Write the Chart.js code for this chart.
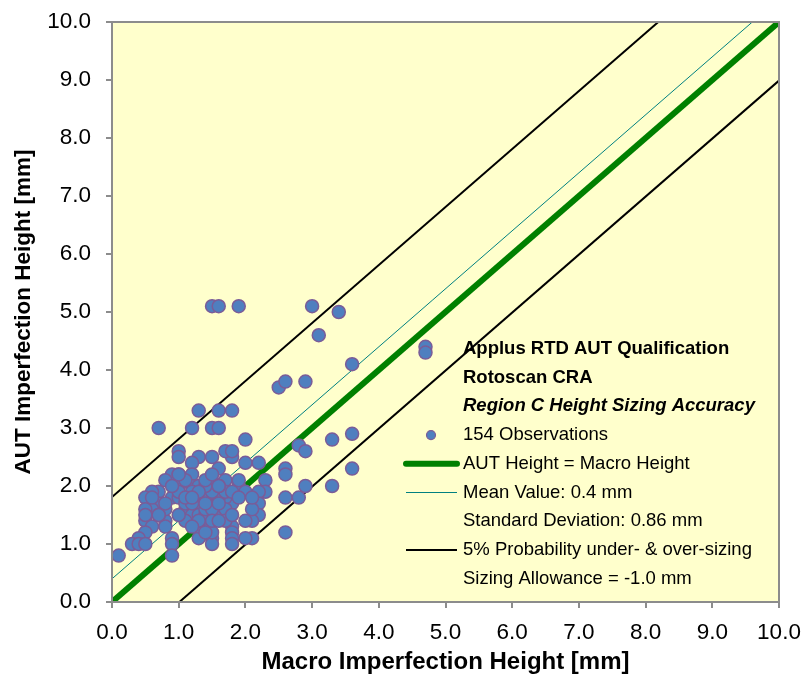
<!DOCTYPE html>
<html><head><meta charset="utf-8">
<script src="https://cdn.jsdelivr.net/npm/chart.js@4/dist/chart.umd.min.js"></script>
<style>html,body{margin:0;padding:0;background:#fff}#wrap{width:804px;height:677px;position:relative}</style>
</head><body><div id="wrap"><canvas id="c" width="804" height="677"></canvas></div>
<script>
// Observations: Macro height (x) vs AUT height (y), mm
const macroHeight = [0.1,1.5,1.6,1.9,3.0,3.4,3.1,3.6,4.7,4.7,2.5,2.6,2.9,1.3,1.6,1.8,0.7,1.2,1.5,1.6,
 2.0,2.8,2.9,3.3,3.6,3.6,3.3,2.9,2.8,2.6,2.6,2.6,2.6,2.2,2.0,2.3,2.3,2.2,2.2,2.2,2.1,2.0,2.1,2.0,2.1,
 1.9,1.8,1.7,1.8,1.8,1.7,1.8,1.8,1.8,1.8,1.7,1.6,1.5,1.3,1.6,1.2,1.0,1.0,0.9,1.0,0.8,1.2,1.5,1.7,1.0,1.2,
 1.4,0.7,0.6,0.5,0.9,1.0,0.7,0.6,0.5,1.3,1.5,1.6,1.1,1.2,1.3,1.4,1.6,1.7,0.5,0.8,0.6,0.8,1.1,1.4,0.5,0.4,
 0.3,0.4,0.5,0.9,0.9,0.9,1.3,1.5,1.5,1.5,1.4,1.6,1.3,1.1,1.2,0.8,0.7,1.4,1.5,1.7,1.9,2.0,1.6,1.2,1.0,0.6,
 1.4,1.5,1.3,1.6,1.8,0.9,1.1,1.4,1.5,1.2,0.8,1.0,1.3,1.7,1.6,1.9,1.4,1.1,1.0,0.7,1.2,1.5,1.8,2.1,1.3,0.5,1.6,1.4,1.2];
const autHeight = [0.8,5.1,5.1,5.1,5.1,5.0,4.6,4.1,4.4,4.3,3.7,3.8,3.8,3.3,3.3,3.3,3.0,3.0,3.0,3.0,
 2.8,2.7,2.6,2.8,2.9,2.3,2.0,2.0,1.8,2.3,2.2,1.8,1.2,2.4,2.4,2.1,1.9,1.9,1.7,1.5,1.4,1.4,1.1,1.1,1.6,
 2.0,2.5,2.6,2.6,1.7,1.8,1.3,1.2,1.1,1.0,1.5,1.6,2.5,2.5,2.3,2.4,2.6,2.5,2.2,2.2,2.1,2.2,2.1,2.1,2.0,2.0,
 1.9,1.9,1.9,1.8,1.8,1.8,1.7,1.6,1.6,1.7,1.7,1.8,1.6,1.5,1.5,1.5,1.5,1.6,1.4,1.4,1.3,1.3,1.4,1.3,1.2,1.1,
 1.0,1.0,1.0,1.1,1.0,0.8,1.1,1.1,1.0,1.2,1.6,1.9,2.0,1.7,1.8,1.6,1.5,1.8,1.9,1.9,2.1,1.9,2.0,1.9,1.9,1.8,
 2.0,1.6,1.9,1.7,1.9,2.0,2.1,1.7,1.4,1.7,1.7,1.5,1.3,1.4,2.0,1.8,2.1,1.8,2.2,1.5,1.8,2.2,1.5,1.8,1.4,1.5,1.4,1.2,1.3];
// Reference lines (x values at the two ends and matching y values)
const equalX = [0, 10], equalY = [0, 10];
const meanX = [0, 9.6], meanY = [0.4, 10];
const upperX = [0, 8.19], upperY = [1.81, 10];
const lowerX = [1.01, 10], lowerY = [0, 8.99];
const xTicks = [0,1,2,3,4,5,6,7,8,9,10];
const yTicks = [0,1,2,3,4,5,6,7,8,9,10];
const legendTitle = ["Applus RTD AUT Qualification", "Rotoscan CRA", "Region C Height Sizing Accuracy"];
const legendItems = [
  {text:"154 Observations", kind:"point"},
  {text:"AUT Height = Macro Height", kind:"green"},
  {text:"Mean Value: 0.4 mm", kind:"teal"},
  {text:"Standard Deviation: 0.86 mm", kind:"none"},
  {text:"5% Probability under- & over-sizing", kind:"black"},
  {text:"Sizing Allowance = -1.0 mm", kind:"none"}
];

const pts = (xs, ys) => xs.map((x,i)=>({x, y: ys[i]}));
const FONT = "'Liberation Sans', Arial, sans-serif";
const PT_FILL = '#4F7FBF', PT_EDGE = '#7A5C98';

const bgPlugin = {
  id:'bg',
  beforeDraw(chart){
    const {ctx, chartArea:a} = chart;
    ctx.save(); ctx.fillStyle = '#FFFFCC';
    ctx.fillRect(a.left, a.top, a.right-a.left, a.bottom-a.top); ctx.restore();
  },
  afterDraw(chart){
    const {ctx, chartArea:a} = chart;
    ctx.save();
    ctx.strokeStyle = '#8C8C8C'; ctx.lineWidth = 2;
    ctx.strokeRect(a.left, a.top, a.right-a.left, a.bottom-a.top);
    // legend
    const lx = 463, y0 = 349, dy = 28.7;
    ctx.fillStyle = '#000'; ctx.textBaseline = 'middle'; ctx.textAlign = 'left';
    legendTitle.forEach((t,i)=>{
      ctx.font = (i===2 ? 'italic bold ' : 'bold ') + '18.5px ' + FONT;
      ctx.fillText(t, lx, y0 + i*dy);
    });
    legendItems.forEach((it,j)=>{
      const y = y0 + (j+3)*dy;
      ctx.font = '18.5px ' + FONT; ctx.fillStyle = '#000';
      ctx.fillText(it.text, lx, y);
      if (it.kind==='point'){
        ctx.beginPath(); ctx.arc(431, y, 4.5, 0, Math.PI*2);
        ctx.fillStyle = PT_FILL; ctx.fill(); ctx.strokeStyle = PT_EDGE; ctx.lineWidth = 1.2; ctx.stroke();
      } else if (it.kind!=='none'){
        ctx.beginPath();
        ctx.strokeStyle = it.kind==='green' ? '#008000' : it.kind==='teal' ? '#008080' : '#000';
        ctx.lineWidth = it.kind==='green' ? 6 : it.kind==='teal' ? 1 : 2;
        ctx.lineCap = it.kind==='green' ? 'round' : 'butt';
        ctx.moveTo(406, y); ctx.lineTo(457, y); ctx.stroke();
      }
    });
    ctx.restore();
  }
};

const lineDs = (label, xs, ys, color, w, order) => ({
  type:'line', label, data: pts(xs, ys), borderColor: color, backgroundColor: color,
  borderWidth: w, pointRadius: 0, fill:false, tension:0, order
});

new Chart(document.getElementById('c'), {
  type: 'scatter',
  data: { datasets: [
    { label: legendItems[0].text, data: pts(macroHeight, autHeight), pointRadius: 6.5,
      pointBackgroundColor: PT_FILL, pointBorderColor: PT_EDGE, pointBorderWidth: 1.5, order: 0 },
    lineDs(legendItems[1].text, equalX, equalY, '#008000', 6, 2),
    lineDs(legendItems[2].text, meanX, meanY, '#008080', 1, 2),
    lineDs(legendItems[4].text, upperX, upperY, '#000000', 2, 1),
    lineDs('lower', lowerX, lowerY, '#000000', 2, 1)
  ]},
  options: {
    responsive:false, animation:false, devicePixelRatio:1,
    layout:{ padding:{ top:22, right:25, left:0, bottom:0 } },
    plugins:{ legend:{display:false}, tooltip:{enabled:false} },
    scales:{
      x:{ type:'linear', min:0, max:10,
        afterBuildTicks(s){ s.ticks = xTicks.map(v=>({value:v})); },
        afterFit(s){ s.height = 75; s.paddingLeft = 0; s.paddingRight = 0; },
        grid:{ drawOnChartArea:false, drawTicks:true, tickLength:6, color:'#8C8C8C', lineWidth:2 },
        border:{ display:true, color:'#8C8C8C', width:2 },
        ticks:{ color:'#000', font:{ family:FONT, size:22.5 }, padding:11, maxRotation:0,
          callback:v=>v.toFixed(1) },
        title:{ display:true, text:'Macro Imperfection Height [mm]', color:'#000',
          font:{ family:FONT, size:24, weight:'bold' }, padding:{top:2,bottom:0} }
      },
      y:{ type:'linear', min:0, max:10,
        afterBuildTicks(s){ s.ticks = yTicks.map(v=>({value:v})); },
        afterFit(s){ s.width = 112; s.paddingTop = 0; s.paddingBottom = 0; },
        grid:{ drawOnChartArea:false, drawTicks:true, tickLength:6, color:'#8C8C8C', lineWidth:2 },
        border:{ display:true, color:'#8C8C8C', width:2 },
        ticks:{ color:'#000', font:{ family:FONT, size:22.5 }, padding:15,
          callback:v=>v.toFixed(1) },
        title:{ display:true, text:'AUT Imperfection Height [mm]', color:'#000',
          font:{ family:FONT, size:22.5, weight:'bold' }, padding:{top:10,bottom:4} }
      }
    }
  },
  plugins:[bgPlugin]
});
</script></body></html>
